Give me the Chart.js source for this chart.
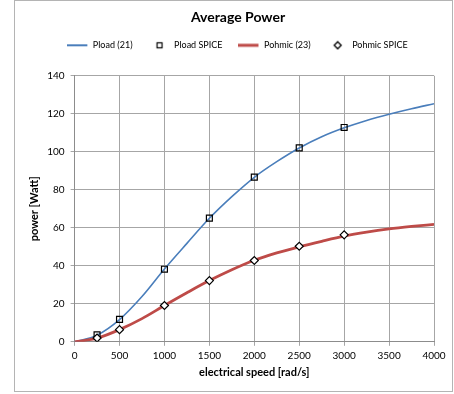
<!DOCTYPE html>
<html lang="en">
<head>
    <meta charset="UTF-8">
    <title>Average Power</title>
    <script src="https://cdn.jsdelivr.net/npm/chart.js@4.4.1/dist/chart.umd.min.js"></script>
    <style>
        body {
            margin: 0;
            background: #ffffff;
            font-family: Lato, sans-serif;
        }
        .chart-box {
            position: absolute;
            left: 14px;
            top: 0px;
            width: 437px;
            height: 390px;
            border: 1px solid #b4b4b4;
            background: #ffffff;
        }
    </style>
</head>
<body>
    <div class="chart-box">
        <canvas id="powerChart" width="437" height="390"></canvas>
    </div>

    <script>
        // curves from the equations
        const speed = [0, 250, 500, 750, 1000, 1250, 1500, 1750, 2000, 2250, 2500, 2750, 3000, 3250, 3500, 3750, 4000];
        const pload = [0, 3.5, 11.7, 23.8, 38.3, 51.8, 65.0, 76.4, 86.6, 94.8, 102.0, 107.9, 112.6, 116.5, 119.8, 122.7, 125.3];
        const pohmic = [0, 1.9, 6.4, 12.2, 19.1, 25.8, 32.2, 37.9, 42.9, 46.8, 50.0, 52.9, 55.6, 57.7, 59.4, 60.7, 61.8];

        // SPICE simulation points
        const spiceSpeed = [250, 500, 1000, 1500, 2000, 2500, 3000];
        const ploadSpice = [3.7, 11.8, 38.2, 65.1, 86.7, 102.1, 112.8];
        const pohmicSpice = [2.0, 6.4, 19.1, 32.2, 42.8, 50.3, 56.3];

        const legendNames = ['Pload (21)', 'Pload SPICE', 'Pohmic (23)', 'Pohmic SPICE'];

        const blue = '#4a7ebb';
        const red = '#be4b48';

        function icon(draw) {
            const c = document.createElement('canvas');
            c.width = 22;
            c.height = 10;
            draw(c.getContext('2d'));
            return c;
        }
        const icons = [
            icon(g => { g.fillStyle = blue; g.fillRect(0, 4, 20, 2); }),
            icon(g => { g.strokeStyle = '#000'; g.lineWidth = 1.2; g.strokeRect(8.5, 2.5, 5, 5); }),
            icon(g => { g.fillStyle = red; g.fillRect(0, 3.5, 20, 3); }),
            icon(g => {
                g.strokeStyle = '#000'; g.lineWidth = 1.3;
                g.beginPath(); g.moveTo(11, 1.5); g.lineTo(14.5, 5); g.lineTo(11, 8.5); g.lineTo(7.5, 5); g.closePath(); g.stroke();
            })
        ];

        const xy = (xs, ys) => xs.map((x, i) => ({ x: x, y: ys[i] }));

        // extra room under the legend, and title/legend centred over the plot
        const legendGap = {
            id: 'legendGap',
            beforeInit(chart) {
                const fit = chart.legend.fit;
                chart.legend.fit = function () {
                    fit.bind(chart.legend)();
                    this.height += 16;
                };
            },
            afterLayout(chart) {
                [chart.legend, chart.titleBlock].forEach(box => {
                    box.left += 7;
                    box.right += 7;
                });
            }
        };

        new Chart(document.getElementById('powerChart'), {
            type: 'line',
            data: {
                datasets: [
                    {
                        label: legendNames[0],
                        data: xy(speed, pload),
                        borderColor: blue,
                        borderWidth: 1.6,
                        pointRadius: 0,
                        cubicInterpolationMode: 'monotone',
                        order: 3
                    },
                    {
                        label: legendNames[1],
                        data: xy(spiceSpeed, ploadSpice),
                        showLine: false,
                        pointStyle: 'rect',
                        pointRadius: 4.2,
                        pointBorderColor: '#000',
                        pointBackgroundColor: 'rgba(255,255,255,0)',
                        pointBorderWidth: 1.2,
                        order: 1
                    },
                    {
                        label: legendNames[2],
                        data: xy(speed, pohmic),
                        borderColor: red,
                        borderWidth: 2.8,
                        pointRadius: 0,
                        cubicInterpolationMode: 'monotone',
                        order: 2
                    },
                    {
                        label: legendNames[3],
                        data: xy(spiceSpeed, pohmicSpice),
                        showLine: false,
                        pointStyle: 'rectRot',
                        pointRadius: 4,
                        pointBorderColor: '#000',
                        pointBackgroundColor: '#ffffff',
                        pointBorderWidth: 1.2,
                        order: 0
                    }
                ]
            },
            options: {
                responsive: false,
                animation: false,
                layout: {
                    padding: { left: 13, right: 18, top: 3, bottom: 12 }
                },
                plugins: {
                    title: {
                        display: true,
                        text: 'Average Power',
                        color: '#000',
                        font: { family: 'Lato', size: 14, weight: 'bold' },
                        padding: { top: 5, bottom: -2 }
                    },
                    legend: {
                        position: 'top',
                        labels: {
                            color: '#000',
                            font: { family: 'Lato', size: 9 },
                            usePointStyle: true,
                            pointStyleWidth: 20,
                            boxHeight: 8,
                            padding: 17,
                            generateLabels: chart => legendNames.map((name, i) => ({
                                text: name,
                                datasetIndex: i,
                                pointStyle: icons[i],
                                fillStyle: 'transparent',
                                strokeStyle: 'transparent',
                                lineWidth: 0,
                                hidden: false
                            }))
                        }
                    },
                    tooltip: { enabled: false }
                },
                scales: {
                    x: {
                        type: 'linear',
                        min: 0,
                        max: 4000,
                        ticks: {
                            stepSize: 500,
                            color: '#000',
                            font: { family: 'Lato', size: 10 },
                            maxRotation: 0,
                            padding: 4,
                            callback: v => String(v)
                        },
                        grid: { color: '#a6a6a6', lineWidth: 1, tickLength: 4 },
                        border: { color: '#8c8c8c' },
                        title: {
                            display: true,
                            text: 'electrical speed [rad/s]',
                            color: '#000',
                            font: { family: 'Lato', size: 11, weight: 'bold' },
                            padding: { top: 0, bottom: 0 }
                        }
                    },
                    y: {
                        min: 0,
                        max: 140,
                        ticks: {
                            stepSize: 20,
                            color: '#000',
                            font: { family: 'Lato', size: 10 },
                            padding: 6
                        },
                        grid: { color: '#a6a6a6', lineWidth: 1, tickLength: 4 },
                        border: { color: '#8c8c8c' },
                        title: {
                            display: true,
                            text: 'power [Watt]',
                            color: '#000',
                            font: { family: 'Lato', size: 11, weight: 'bold' },
                            padding: { top: 0, bottom: 0 }
                        }
                    }
                }
            },
            plugins: [legendGap]
        });
    </script>
</body>
</html>
